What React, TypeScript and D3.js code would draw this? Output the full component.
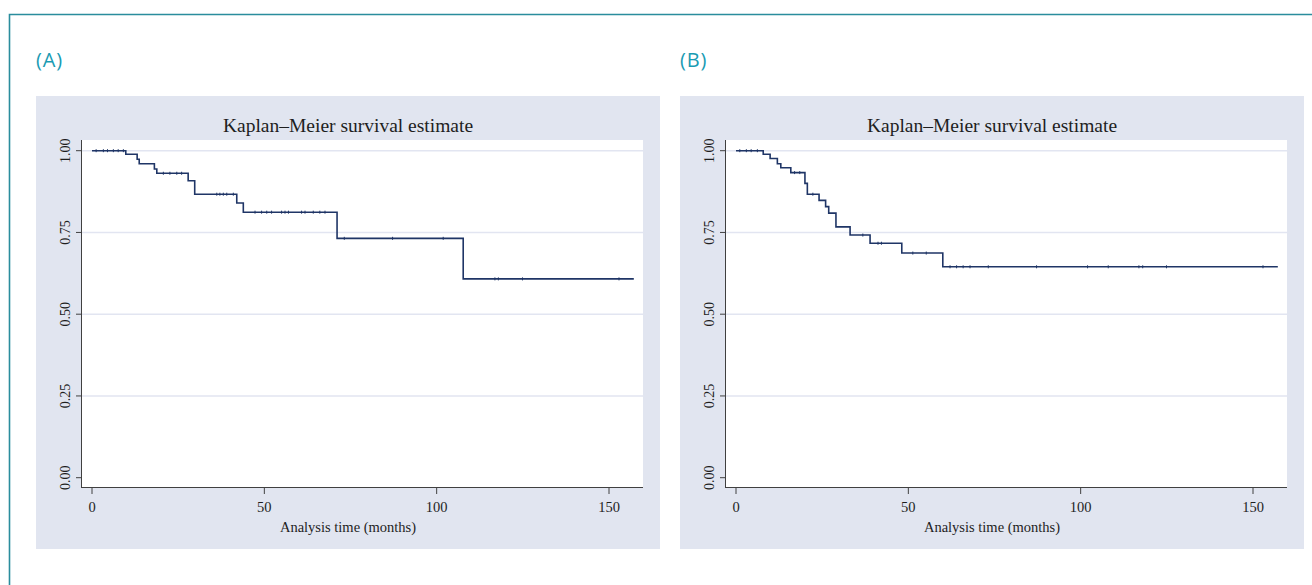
import React from "react";
import * as d3 from "d3";

// Panel A: event times (months) and survival after each event
const aTimes = [9.8, 13.1, 13.7, 18.1, 18.8, 27.9, 29.8, 42.0, 43.9, 71.1, 107.7];
const aSurv = [0.989, 0.974, 0.96, 0.944, 0.931, 0.908, 0.867, 0.84, 0.812, 0.732, 0.608];
const aCensor = [1.2, 3.3, 4.5, 6.2, 7.6, 9.1, 20.7, 22.6, 24.6, 26.0, 36.2, 37.1, 38.1, 39.1, 41.0,
  47.3, 49.2, 50.7, 52.1, 55.0, 56.0, 57.0, 60.8, 61.8, 64.2, 66.1, 67.6, 73.2, 87.2, 101.9,
  116.9, 117.9, 124.9, 152.9];
const aEnd = 157.2;

// Panel B
const bTimes = [7.9, 9.9, 12.0, 13.0, 15.9, 20.0, 20.7, 24.1, 26.0, 26.9, 29.0, 33.1, 38.9, 48.1, 60.0];
const bSurv = [0.989, 0.976, 0.96, 0.948, 0.933, 0.9, 0.867, 0.848, 0.829, 0.809, 0.767, 0.742, 0.717, 0.687, 0.645];
const bCensor = [1.1, 3.0, 4.4, 6.2, 17.0, 18.5, 22.3, 36.8, 41.2, 42.2, 51.3, 55.2,
  62.1, 64.0, 65.9, 67.9, 73.2, 87.2, 102.0, 108.0, 116.9, 118.0, 124.9, 152.9];
const bEnd = 157.2;

const xTicks = [0, 50, 100, 150];
const yTicks = [0, 0.25, 0.5, 0.75, 1];
const panelLabels = ["(A)", "(B)"];
const title = "Kaplan–Meier survival estimate";
const xLabel = "Analysis time (months)";

const serif = "'Liberation Serif', 'Times New Roman', serif";
const curveColor = "#1f3566";

function survAt(times: number[], surv: number[], t: number) {
  let s = 1;
  times.forEach((ti, i) => {
    if (ti <= t) s = surv[i];
  });
  return s;
}

function Panel({ x0, label, times, surv, censor, end }: any) {
  const x = d3.scaleLinear().domain([0, 150]).range([x0 + 92, x0 + 609]);
  const y = d3.scaleLinear().domain([0, 1]).range([477.7, 150.7]);
  const plotL = x0 + 81;
  const plotR = x0 + 643;
  const plotT = 140;
  const plotB = 488;
  const pts: [number, number][] = [[0, 1], ...times.map((t: number, i: number) => [t, surv[i]] as [number, number]), [end, surv[surv.length - 1]]];
  const line = d3
    .line<[number, number]>()
    .x((d) => x(d[0]))
    .y((d) => y(d[1]))
    .curve(d3.curveStepAfter);
  const cx = x0 + 348;
  return (
    <g>
      <text x={x0 + 36} y={67} fill="#1a9bb3" fontFamily="'Open Sans', sans-serif" fontSize={20} letterSpacing={0.8}>
        {label}
      </text>
      <rect x={x0 + 36} y={96} width={624} height={453} fill="#e1e5f0" />
      <rect x={plotL} y={plotT} width={plotR - plotL} height={plotB - plotT} fill="#ffffff" />
      <text x={cx} y={132} textAnchor="middle" fontFamily={serif} fontSize={19.5} fill="#1e1e1e">
        {title}
      </text>
      {yTicks.filter((v) => v > 0).map((v) => (
        <line key={v} x1={plotL} x2={plotR} y1={y(v)} y2={y(v)} stroke="#e2e5f1" strokeWidth={1.5} />
      ))}
      <path d={line(pts) || ""} fill="none" stroke={curveColor} strokeWidth={1.6} />
      {censor.map((t: number) => {
        const s = survAt(times, surv, t);
        return <line key={t} x1={x(t)} x2={x(t)} y1={y(s) - 1.5} y2={y(s) + 1.5} stroke={curveColor} strokeWidth={1} />;
      })}
      <line x1={plotL + 0.5} x2={plotL + 0.5} y1={plotT} y2={plotB} stroke="#404040" strokeWidth={1} />
      <line x1={plotL} x2={plotR} y1={plotB - 0.5} y2={plotB - 0.5} stroke="#404040" strokeWidth={1} />
      {yTicks.map((v) => (
        <g key={v}>
          <line x1={plotL - 5} x2={plotL} y1={y(v)} y2={y(v)} stroke="#404040" strokeWidth={1} />
          <text
            transform={`translate(${x0 + 70},${y(v)}) rotate(-90)`}
            textAnchor="middle"
            fontFamily={serif}
            fontSize={14}
            fill="#1e1e1e"
          >
            {v.toFixed(2)}
          </text>
        </g>
      ))}
      {xTicks.map((v) => (
        <g key={v}>
          <line x1={x(v)} x2={x(v)} y1={plotB} y2={plotB + 6} stroke="#404040" strokeWidth={1} />
          <text x={x(v)} y={511.5} textAnchor="middle" fontFamily={serif} fontSize={14.5} fill="#1e1e1e">
            {v}
          </text>
        </g>
      ))}
      <text x={cx} y={531.5} textAnchor="middle" fontFamily={serif} fontSize={14.5} fill="#1e1e1e">
        {xLabel}
      </text>
    </g>
  );
}

export default function App() {
  return (
    <svg width={1312} height={585} style={{ position: "absolute", left: 0, top: 0, background: "#fff" }}>
      <path d="M9.5,585 V14.5 H1312" fill="none" stroke="#2a8d9d" strokeWidth={1.6} />
      <Panel x0={0} label={panelLabels[0]} times={aTimes} surv={aSurv} censor={aCensor} end={aEnd} />
      <Panel x0={644} label={panelLabels[1]} times={bTimes} surv={bSurv} censor={bCensor} end={bEnd} />
    </svg>
  );
}
